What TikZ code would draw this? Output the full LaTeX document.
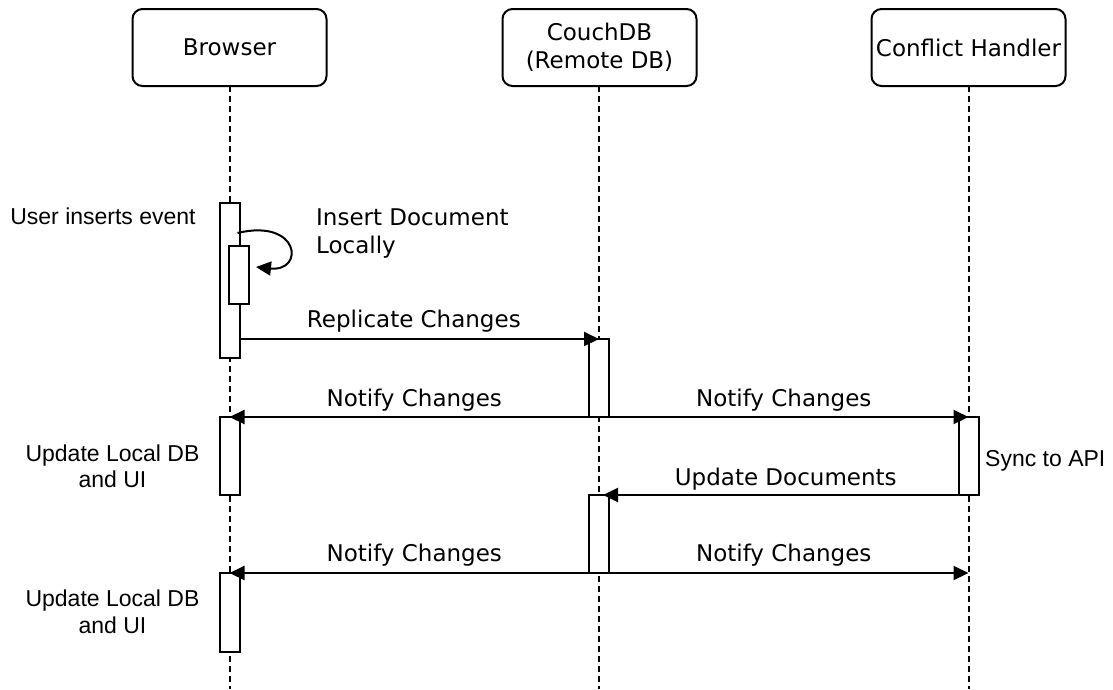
\documentclass[tikz,border=0pt]{standalone}
\usepackage{fontspec}
\usetikzlibrary{arrows.meta,calc}
\newfontfamily\dvfont{DejaVu Sans}
\newfontfamily\lsfont{Liberation Sans}
\begin{document}
\begin{tikzpicture}[x=1pt,y=-1pt,
  actor/.style={draw,line width=2pt,rounded corners=10pt,minimum width=194pt,minimum height=77pt,inner sep=0pt,outer sep=0pt,align=center,font=\dvfont\fontsize{23}{28}\selectfont},
  lifeline/.style={line width=2pt,dash pattern=on 6pt off 4pt},
  act/.style={draw,fill=white,line width=2pt,minimum width=20pt,inner sep=0pt,outer sep=0pt},
  msg/.style={line width=2pt,-{Triangle[length=15pt,width=14pt]}},
  msglabel/.style={font=\dvfont\fontsize{23}{28}\selectfont,inner sep=0pt,anchor=base},
  note/.style={font=\lsfont\fontsize{23}{26.5}\selectfont,inner sep=0pt,align=center}]
\useasboundingbox (0,0) rectangle (1113,689);
% actors
\node[actor] (browser) at (229.5,47.5) {Browser};
\node[actor] (couch) at (599.5,47.5) {CouchDB\\(Remote DB)};
\node[actor] (conflict) at (968.5,47.5) {Conflict Handler};
% lifelines
\coordinate (bEnd) at (229.5,689);
\coordinate (cEnd) at (599,689);
\coordinate (hEnd) at (968.5,689);
\draw[lifeline] (browser.south) -- (bEnd);
\draw[lifeline] (couch.south -| cEnd) -- (cEnd);
\draw[lifeline] (conflict.south) -- (hEnd);
% activations
\node[act,minimum height=155pt] (actB1) at (229.5,280.5) {};
\node[act,minimum height=58pt] (actB2) at (239,275) {};
\node[act,minimum height=78pt] (actC1) at (599,378) {};
\node[act,minimum height=78pt] (actB3) at (229.5,456) {};
\node[act,minimum height=78pt] (actH1) at (968.5,456) {};
\node[act,minimum height=78pt] (actC2) at (599,534) {};
\node[act,minimum height=79pt] (actB4) at (229.5,612.5) {};
% self message
\draw[msg] ([xshift=-2pt,yshift=-30pt]actB1.north east) .. controls (300,218) and (305,272) .. ([xshift=7pt,yshift=8pt]actB2.east);
\node[font=\dvfont\fontsize{23}{28}\selectfont,inner sep=0pt,align=left,anchor=base west] (insertlbl) at (316,253) {Insert Document\\Locally};
% messages
\draw[msg] (actB1.east |- actC1.north) -- node[msglabel,pos=0.485,yshift=12pt] (replbl) {Replicate Changes} (actC1.north);
\draw[msg] (actC1.south) -- node[msglabel,midway,yshift=11pt] (n1l) {Notify Changes} (actB3.north);
\draw[msg] (actC1.south) -- node[msglabel,midway,yshift=11pt] (n1r) {Notify Changes} (actH1.north);
\draw[msg] (actH1.south) -- node[msglabel,midway,yshift=10pt] (updlbl) {Update Documents} ([xshift=4pt]actC2.north);
\draw[msg] (actC2.south) -- node[msglabel,midway,yshift=12pt] (n2l) {Notify Changes} (actB4.north);
\draw[msg] (actC2.south) -- node[msglabel,midway,yshift=12pt] (n2r) {Notify Changes} (actC2.south -| hEnd);
% notes
\node[note,anchor=base] (n0) at (103,224) {User inserts event};
\node[note,anchor=base] (n1) at (112.5,487.5) {Update Local DB\\and UI};
\node[note,anchor=base] (n2) at (112.5,633) {Update Local DB\\and UI};
\node[note,anchor=base west] (n3) at (985,466) {Sync to API};
\end{tikzpicture}
\end{document}
